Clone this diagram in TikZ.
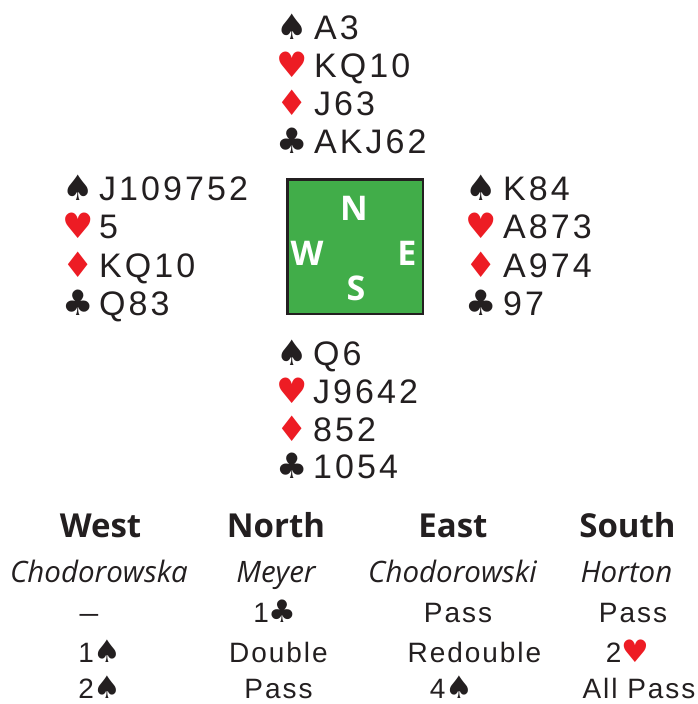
\documentclass[tikz,border=0pt]{standalone}
\usepackage{graphicx}
\usepackage{fontspec}
\setmainfont{Liberation Sans}
\newfontfamily\handfont[LetterSpace=9]{Liberation Sans}
\newfontfamily\bidfont[LetterSpace=7]{Liberation Sans}
\newfontfamily\suitfont{DejaVu Sans}
\newfontfamily\openfont{Open Sans}
\definecolor{ink}{HTML}{231F20}
\definecolor{suitred}{HTML}{ED1C24}
\definecolor{boardgreen}{HTML}{41AD49}
\newcommand\cardrow[7]{%
  \node[suitsym,text=#5] (#1s) at (#2,#4) {#6};
  \node[cards] (#1c) at (#3,#4) {#7};}
\newcommand\bsuit[1]{{\suitfont\fontsize{31}{31}\selectfont #1}}
\tikzset{
  suitsym/.style={anchor=base,inner sep=0pt,font=\suitfont\fontsize{35}{35}\selectfont},
  cards/.style={anchor=base west,inner sep=0pt,text=ink,font=\handfont\fontsize{34}{34}\selectfont},
  compass/.style={anchor=base,inner sep=0pt,text=white,font=\openfont\bfseries\fontsize{34}{34}\selectfont},
  header/.style={anchor=base,inner sep=0pt,text=ink,font=\openfont\bfseries\fontsize{33}{33}\selectfont},
  player/.style={anchor=base,inner sep=0pt,text=ink,font=\openfont\itshape\fontsize{29.5}{29.5}\selectfont},
  bid/.style={anchor=base,inner sep=0pt,text=ink,font=\bidfont\fontsize{28}{28}\selectfont},
}
\begin{document}
\begin{tikzpicture}[x=1pt,y=-1pt]
\useasboundingbox (0,0) rectangle (698,704);
% board
\node[draw=ink,line width=2.5pt,fill=boardgreen,minimum width=135.5pt,minimum height=134.5pt,inner sep=0pt] (board) at (355,246.5) {};
\node[compass] (cN) at (354,220) {N};
\node[compass] (cW) at (307,265) {W};
\node[compass] (cE) at (407,265) {E};
\node[compass] (cS) at (356,300) {S};
% North
\cardrow{n1}{292}{314}{39}{ink}{♠}{A3}
\cardrow{n2}{292}{314}{77.5}{suitred}{♥}{KQ10}
\cardrow{n3}{292}{314}{115.5}{suitred}{♦}{J63}
\cardrow{n4}{292}{314}{153.5}{ink}{♣}{AKJ62}
% West
\cardrow{w1}{78.5}{99}{200}{ink}{♠}{J109752}
\cardrow{w2}{78.5}{99}{238.5}{suitred}{♥}{5}
\cardrow{w3}{78.5}{99}{277}{suitred}{♦}{KQ10}
\cardrow{w4}{78.5}{99}{315}{ink}{♣}{Q83}
% East
\cardrow{e1}{481}{503}{200}{ink}{♠}{K84}
\cardrow{e2}{481}{503}{238.5}{suitred}{♥}{A873}
\cardrow{e3}{481}{503}{277}{suitred}{♦}{A974}
\cardrow{e4}{481}{503}{315}{ink}{♣}{97}
% South
\cardrow{s1}{292.5}{313}{365}{ink}{♠}{Q6}
\cardrow{s2}{292.5}{313}{403}{suitred}{♥}{J9642}
\cardrow{s3}{292.5}{313}{441}{suitred}{♦}{852}
\cardrow{s4}{292.5}{313}{478.5}{ink}{♣}{1054}
% auction
\node[header] (hW) at (100.5,537) {West};
\node[header] (hN) at (276,537) {North};
\node[header] (hE) at (453,537) {East};
\node[header] (hS) at (627.5,537) {South};
\node[player] (pW) at (99,582) {Chodorowska};
\node[player] (pN) at (276,582) {Meyer};
\node[player] (pE) at (452.5,582) {Chodorowski};
\node[player] (pS) at (626.5,582) {Horton};
\node[bid] (b11) at (89,622) {\scalebox{1.2}[1]{–}};
\node[bid] (b12) at (275,622) {1\bsuit{♣}};
\node[bid] (b13) at (458,622) {Pass};
\node[bid] (b14) at (633,622) {Pass};
\node[bid] (b21) at (100,662) {1\bsuit{♠}};
\node[bid] (b22) at (278.5,662) {Double};
\node[bid] (b23) at (474.5,662) {Redouble};
\node[bid] (b24) at (627.5,662) {2\textcolor{suitred}{\bsuit{♥}}};
\node[bid] (b31) at (100,698) {2\bsuit{♠}};
\node[bid] (b32) at (278.5,698) {Pass};
\node[bid] (b33) at (451.5,698) {4\bsuit{♠}};
\node[bid] (b34) at (639,698) {All Pass};
\end{tikzpicture}
\end{document}
